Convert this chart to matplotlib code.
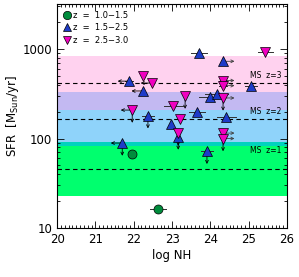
import matplotlib
matplotlib.use('Agg')
import matplotlib.pyplot as plt
from matplotlib.ticker import MultipleLocator, LogLocator, NullFormatter, FixedLocator
from matplotlib.lines import Line2D

# main sequence SFR at z=1,2,3 (bands are x0.5 .. x2)
ms_z = [1, 2, 3]
ms_sfr = [45.6, 165, 417]

# z = 1.0-1.5
nh1 = [21.96, 22.63]
sfr1 = [67, 16.3]
xe1 = [0.1, 0.2]
lim1 = ['', '']

# z = 1.5-2.5
nh2 = [23.70, 24.33, 21.88, 22.24, 25.06, 23.99, 24.17, 23.65, 24.41, 22.97, 22.37, 23.16, 23.91, 21.70]
sfr2 = [900, 730, 438, 340, 386, 291, 314, 198, 174, 145, 180, 104, 72, 89]
xe2 = [0.2, 0.0, 0.1, 0.0, 0.15, 0.3, 0.3, 0.2, 0.25, 0.0, 0.15, 0.0, 0.15, 0.0]
lim2 = ['', 'r', 'l', 'l', '', '', '', '', '', '', 'd', 'd', 'd', 'ld']

# z = 2.5-3.0
nh3 = [25.43, 22.24, 22.48, 24.33, 24.33, 23.34, 24.33, 23.03, 21.96, 23.21, 23.16, 24.33, 24.33]
sfr3 = [925, 499, 417, 445, 390, 298, 284, 231, 208, 165, 115, 115, 100]
xe3 = [0.2, 0.0, 0.0, 0.1, 0.1, 0.0, 0.0, 0.25, 0.0, 0.0, 0.0, 0.0, 0.0]
lim3 = ['', '', 'l', 'r', 'r', 'd', 'rd', '', 'ld', '', 'd', 'r', 'rd']

fig = plt.figure(figsize=(2.99, 2.77), dpi=100)
ax = fig.add_axes([0.191, 0.177, 0.769, 0.809])
ax.set_yscale('log')
ax.set_xlim(20, 26)
ax.set_ylim(10, 3200)

# bands
pink = '#ffd2ef'
blue = '#8fd3fa'
purple = '#c3b9f2'
green = '#00ff6e'
teal = '#00d2be'
ax.axhspan(ms_sfr[2] / 2, ms_sfr[2] * 2, color=pink, lw=0, zorder=0)
ax.axhspan(ms_sfr[1] / 2, ms_sfr[1] * 2, color=blue, lw=0, zorder=0)
ax.axhspan(ms_sfr[2] / 2, ms_sfr[1] * 2, color=purple, lw=0, zorder=0)
ax.axhspan(ms_sfr[0] / 2, ms_sfr[0] * 2, color=green, lw=0, zorder=0)
ax.axhspan(ms_sfr[1] / 2, ms_sfr[0] * 2, color=teal, lw=0, zorder=0)

for z, s in zip(ms_z, ms_sfr):
    ax.axhline(s, color='k', ls=(0, (4, 3)), lw=0.8, zorder=1)
    off = 1.08 if z > 1 else 1.45
    ax.text(25.85, s * off, 'MS  z=%d' % z, fontsize=5.5, ha='right', va='bottom', zorder=2)


def draw(nh, sfr, xe, lim, marker, fc):
    for x, y, e, l in zip(nh, sfr, xe, lim):
        if e > 0:
            ax.plot([x - e, x + e], [y, y], color='#303030', lw=0.7, zorder=3)
        if 'l' in l:
            ax.annotate('', xy=(x - 0.3, y), xytext=(x, y), zorder=3,
                        arrowprops=dict(arrowstyle='->', lw=0.6, color='k', mutation_scale=5, shrinkA=0, shrinkB=0))
        if 'r' in l:
            ax.annotate('', xy=(x + 0.3, y), xytext=(x, y), zorder=3,
                        arrowprops=dict(arrowstyle='->', lw=0.6, color='#404040', mutation_scale=5, shrinkA=0, shrinkB=0))
        if 'd' in l:
            ax.annotate('', xy=(x, y * 0.72), xytext=(x, y), zorder=3,
                        arrowprops=dict(arrowstyle='->', lw=0.6, color='k', mutation_scale=5, shrinkA=0, shrinkB=0))
    ax.plot(nh, sfr, ls='none', marker=marker, ms=6.5, mfc=fc, mec='k', mew=0.5, zorder=4)


draw(nh1, sfr1, xe1, lim1, 'o', '#008c3c')
draw(nh2, sfr2, xe2, lim2, '^', '#1e3cc8')
draw(nh3, sfr3, xe3, lim3, 'v', '#f000c0')

handles = [Line2D([], [], ls='none', marker='o', ms=6, mfc='#008c3c', mec='k', mew=0.5),
           Line2D([], [], ls='none', marker='^', ms=6, mfc='#1e3cc8', mec='k', mew=0.5),
           Line2D([], [], ls='none', marker='v', ms=6, mfc='#f000c0', mec='k', mew=0.5)]
ax.legend(handles, ['z  =  1.0\u22121.5', 'z  =  1.5\u22122.5', 'z  =  2.5\u22123.0'],
          loc='upper left', frameon=False, fontsize=6, handlelength=0.8, handletextpad=0.3,
          borderaxespad=0.5, labelspacing=0.45, borderpad=0.3)

ax.xaxis.set_major_locator(MultipleLocator(1))
ax.xaxis.set_minor_locator(MultipleLocator(0.1))
ax.yaxis.set_major_locator(FixedLocator([10, 100, 1000]))
ax.yaxis.set_minor_locator(LogLocator(base=10, subs=[2, 3, 4, 5, 6, 7, 8, 9]))
ax.yaxis.set_minor_formatter(NullFormatter())
ax.set_yticklabels(['10', '100', '1000'])
ax.tick_params(which='both', direction='in', top=True, right=True, labelsize=8.5, width=0.6)
ax.tick_params(which='major', length=5)
ax.tick_params(which='minor', length=2.5)
for sp in ax.spines.values():
    sp.set_linewidth(0.8)

ax.set_xlabel('log NH', fontsize=8.5, labelpad=2)
ax.set_ylabel('SFR  [M$_{\\rm Sun}$/yr]', fontsize=8.5, labelpad=1)

fig.savefig('out.png', dpi=100)
